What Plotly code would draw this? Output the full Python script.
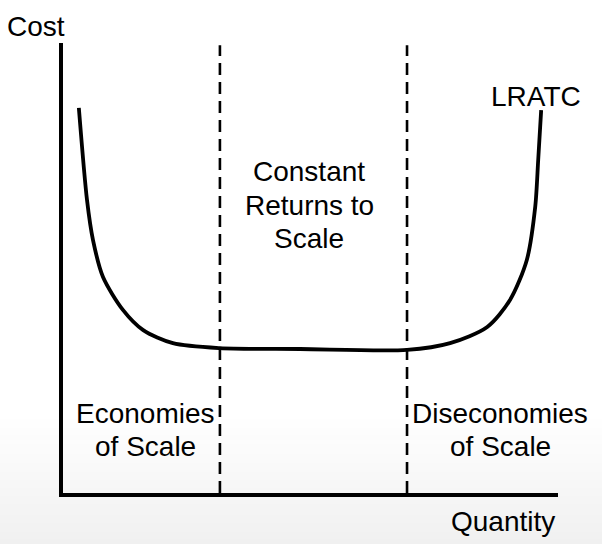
import plotly.graph_objects as go

# LRATC curve (quantity, cost) in chart units (0-100)
quantity = [3.2, 4.85, 6.06, 8.08, 12.1, 16.2, 22.2, 31.7, 47.9, 69.5, 78.2, 85.7, 90.3, 93.7, 95.4, 96.0, 96.6]
cost = [85.6, 65.1, 56.2, 48.0, 40.7, 36.2, 33.3, 32.2, 32.0, 31.8, 33.3, 36.9, 42.9, 51.8, 63.6, 74.0, 85.1]

# Region boundaries (quantity)
boundaries = [31.7, 69.5]

# Region labels (one entry per text line)
middle_label = ["Constant", "Returns to", "Scale"]
left_label = ["Economies", "of Scale"]
right_label = ["Diseconomies", "of Scale"]

W, H = 602, 544
L, R, T, B = 63, 44, 43, 51
PW, PH = W - L - R, H - T - B

fig = go.Figure()

for bx in boundaries:
    fig.add_trace(go.Scatter(x=[bx, bx], y=[0, 99.5], mode="lines",
                             line=dict(color="black", width=2.6, dash="12px,7px"),
                             hoverinfo="skip", showlegend=False))

fig.add_trace(go.Scatter(x=quantity, y=cost, mode="lines",
                         line=dict(color="black", width=3.8, shape="spline", smoothing=0.8),
                         hoverinfo="skip", showlegend=False))

# background gradient near the bottom
shapes = []
n = 62
y0 = 415
for i in range(n):
    ya = y0 + (H - y0) * i / n
    yb = y0 + (H - y0) * (i + 1) / n
    v = int(round(255 - 15 * (i + 0.5) / n))
    shapes.append(dict(type="rect", xref="paper", yref="paper",
                       x0=-L / PW - 0.02, x1=1 + R / PW + 0.02,
                       y0=(H - B - yb) / PH - 0.003, y1=(H - B - ya) / PH,
                       fillcolor=f"rgb({v},{v},{v})", line=dict(width=0), layer="below"))

font = dict(family="Liberation Sans, Arial, sans-serif", color="black")


def px_x(px):
    return (px - L) / PW


def px_y(py):
    return (H - B - py) / PH


def ann(text, cx, cy, size=28):
    return dict(text=text, x=px_x(cx), y=px_y(cy), xref="paper", yref="paper",
                showarrow=False, font=dict(size=size, **font), align="center",
                xanchor="center", yanchor="middle")


annotations = [
    ann("Cost", 36, 26),
    ann("Quantity", 503, 521),
    ann("LRATC", 536, 96),
]
for txt, cy in zip(middle_label, [171, 205, 238]):
    annotations.append(ann(txt, 309, cy))
for txt, cy in zip(left_label, [413, 446]):
    annotations.append(ann(txt, 145, cy))
for txt, cy in zip(right_label, [413, 446]):
    annotations.append(ann(txt, 500, cy))

fig.update_layout(
    width=W, height=H,
    margin=dict(l=L, r=R, t=T, b=B),
    paper_bgcolor="white", plot_bgcolor="rgba(0,0,0,0)",
    xaxis=dict(range=[0, 100], showgrid=False, zeroline=False, showticklabels=False,
               ticks="", showline=True, linecolor="black", linewidth=3.5, fixedrange=True),
    yaxis=dict(range=[0, 100], showgrid=False, zeroline=False, showticklabels=False,
               ticks="", showline=True, linecolor="black", linewidth=3.5, fixedrange=True),
    shapes=shapes,
    annotations=annotations,
)

fig.write_html("out.html", config={"displayModeBar": False},
               post_script="document.body.style.margin='0';document.body.style.overflow='hidden';")
